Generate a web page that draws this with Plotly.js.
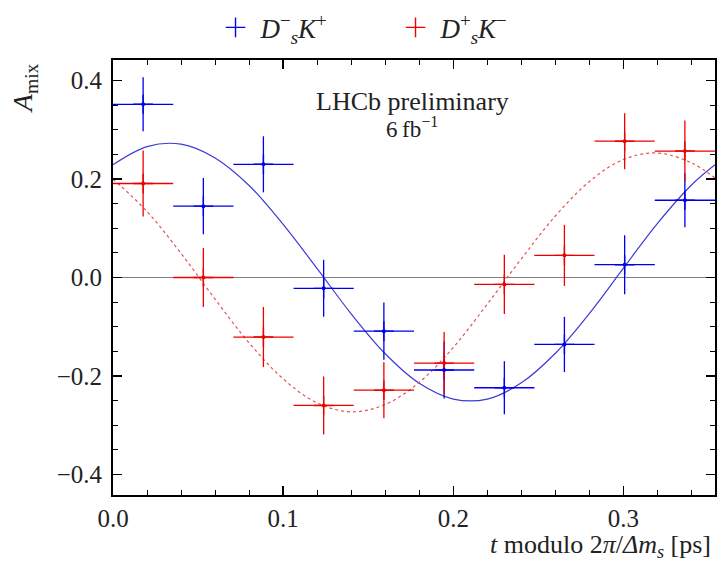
<!DOCTYPE html>
<html>
<head>
<meta charset="utf-8">
<script src="https://cdn.plot.ly/plotly-3.0.1.min.js"></script>
<style>html,body{margin:0;padding:0;background:#fff;}#chart{width:717px;height:566px;}</style>
</head>
<body>
<div id="chart"></div>
<script>
// bin centres (t modulo 2pi/dm_s, ps) and half bin width
const binCentres = [0.0177, 0.0531, 0.0884, 0.1238, 0.1592, 0.1946, 0.2300, 0.2653, 0.3007, 0.3361];
const binHalfWidth = [0.0177, 0.0177, 0.0177, 0.0177, 0.0177, 0.0177, 0.0177, 0.0177, 0.0177, 0.0177];

// D_s^- K^+ (blue)
const blueA   = [0.352, 0.145, 0.230, -0.022, -0.109, -0.188, -0.224, -0.136, 0.026, 0.157];
const blueErr = [0.055, 0.057, 0.057, 0.058, 0.058, 0.058, 0.054, 0.056, 0.060, 0.055];

// D_s^+ K^- (red)
const redA    = [0.191, 0.000, -0.121, -0.260, -0.229, -0.174, -0.014, 0.045, 0.277, 0.257];
const redErr  = [0.067, 0.060, 0.061, 0.059, 0.057, 0.063, 0.060, 0.062, 0.057, 0.062];

// fitted curves
const curveT    = [0, 0.02, 0.04, 0.06, 0.08, 0.10, 0.12, 0.14, 0.16, 0.18, 0.20, 0.22, 0.24, 0.26, 0.28, 0.30, 0.32, 0.34, 0.3538];
const blueCurve = [0.229, 0.266, 0.271, 0.243, 0.187, 0.108, 0.018, -0.074, -0.155, -0.215, -0.247, -0.247, -0.214, -0.154, -0.073, 0.019, 0.110, 0.188, 0.229];
const redCurve  = [0.200, 0.134, 0.049, -0.044, -0.133, -0.206, -0.255, -0.273, -0.258, -0.213, -0.142, -0.054, 0.038, 0.125, 0.195, 0.240, 0.253, 0.233, 0.202];

const xTickVals = [0, 0.1, 0.2, 0.3];
const xTickText = ['0.0', '0.1', '0.2', '0.3'];
const yTickVals = [-0.4, -0.2, 0, 0.2, 0.4];
const yTickText = ['\u22120.4', '\u22120.2', '0.0', '0.2', '0.4'];

const FONT = '"Liberation Serif", "DejaVu Serif", serif';
const BLUE = '#0000ee';
const RED = '#ee0000';

const traces = [
  {x: curveT, y: blueCurve, mode: 'lines', line: {color: '#3b3bd6', width: 1.2, shape: 'spline'}, showlegend: false, hoverinfo: 'skip'},
  {x: curveT, y: redCurve, mode: 'lines', line: {color: '#e85050', width: 1.2, dash: 'dot', shape: 'spline'}, showlegend: false, hoverinfo: 'skip'},
  {x: binCentres, y: blueA, mode: 'markers', name: '<i>D</i><sup>\u2212</sup><sub><i>s</i></sub><i>K</i><sup>+</sup>',
   marker: {color: BLUE, size: 14, symbol: 'cross-thin-open', line: {width: 1.4, color: BLUE}},
   error_y: {type: 'data', array: blueErr, color: BLUE, thickness: 1.3, width: 0},
   error_x: {type: 'data', array: binHalfWidth, color: BLUE, thickness: 1.3, width: 0}},
  {x: binCentres, y: redA, mode: 'markers', name: '<i>D</i><sup>+</sup><sub><i>s</i></sub><i>K</i><sup>\u2212</sup>',
   marker: {color: RED, size: 14, symbol: 'cross-thin-open', line: {width: 1.4, color: RED}},
   error_y: {type: 'data', array: redErr, color: RED, thickness: 1.3, width: 0},
   error_x: {type: 'data', array: binHalfWidth, color: RED, thickness: 1.3, width: 0}},
  {x: binCentres, y: blueA, mode: 'markers', marker: {color: BLUE, size: 4}, showlegend: false, hoverinfo: 'skip'},
  {x: binCentres, y: redA, mode: 'markers', marker: {color: RED, size: 4}, showlegend: false, hoverinfo: 'skip'}
];

const axisCommon = {
  showline: true, linecolor: '#000', linewidth: 2, mirror: 'allticks',
  ticks: 'inside', ticklen: 9, tickwidth: 1.5, tickcolor: '#000',
  showgrid: false, tickfont: {family: FONT, size: 25, color: '#222'},
};

const layout = {
  width: 717, height: 566,
  margin: {l: 113, r: 2, t: 60, b: 71, autoexpand: false},
  paper_bgcolor: '#fff', plot_bgcolor: '#fff',
  font: {family: FONT, color: '#222'},
  xaxis: Object.assign({}, axisCommon, {
    range: [0, 0.3538], tickmode: 'array', tickvals: xTickVals, ticktext: xTickText,
    zeroline: false, ticklabelstandoff: 0,
    minor: {dtick: 0.02, tick0: 0, ticks: 'inside', ticklen: 5, tickwidth: 1, tickcolor: '#000'}
  }),
  yaxis: Object.assign({}, axisCommon, {
    range: [-0.442, 0.442], tickmode: 'array', tickvals: yTickVals, ticktext: yTickText,
    zeroline: true, zerolinecolor: '#808080', zerolinewidth: 1.2, ticklabelstandoff: 4,
    minor: {dtick: 0.05, tick0: 0, ticks: 'inside', ticklen: 5, tickwidth: 1, tickcolor: '#000'}
  }),
  showlegend: true,
  legend: {orientation: 'h', x: 0.162, xanchor: 'left', y: 1.074, yanchor: 'middle',
    font: {family: FONT, size: 27, color: '#222'}, bgcolor: 'rgba(0,0,0,0)', itemwidth: 40,
    entrywidth: 125, entrywidthmode: 'pixels'},
  annotations: [
    {xref: 'paper', yref: 'paper', x: 0.497, y: 0.905, text: 'LHCb preliminary', showarrow: false,
     font: {family: FONT, size: 26, color: '#222'}, xanchor: 'center', yanchor: 'middle'},
    {xref: 'paper', yref: 'paper', x: 0.497, y: 0.845, text: '6\u2009fb<sup>\u22121</sup>', showarrow: false,
     font: {family: FONT, size: 23, color: '#222'}, xanchor: 'center', yanchor: 'middle'},
    {xref: 'paper', yref: 'paper', x: 0.997, y: -0.118, text: '<i>t</i> modulo 2<i>\u03c0</i>/<i>\u0394m</i><sub><i>s</i></sub> [ps]', showarrow: false,
     font: {family: FONT, size: 26, color: '#222'}, xanchor: 'right', yanchor: 'middle'},
    {xref: 'paper', yref: 'paper', x: -0.148, y: 0.935, text: '<i>A</i><sub>mix</sub>', showarrow: false, textangle: -90,
     font: {family: FONT, size: 28, color: '#222'}, xanchor: 'center', yanchor: 'middle'}
  ]
};

Plotly.newPlot('chart', traces, layout, {displayModeBar: false, staticPlot: true});
</script>
</body>
</html>
